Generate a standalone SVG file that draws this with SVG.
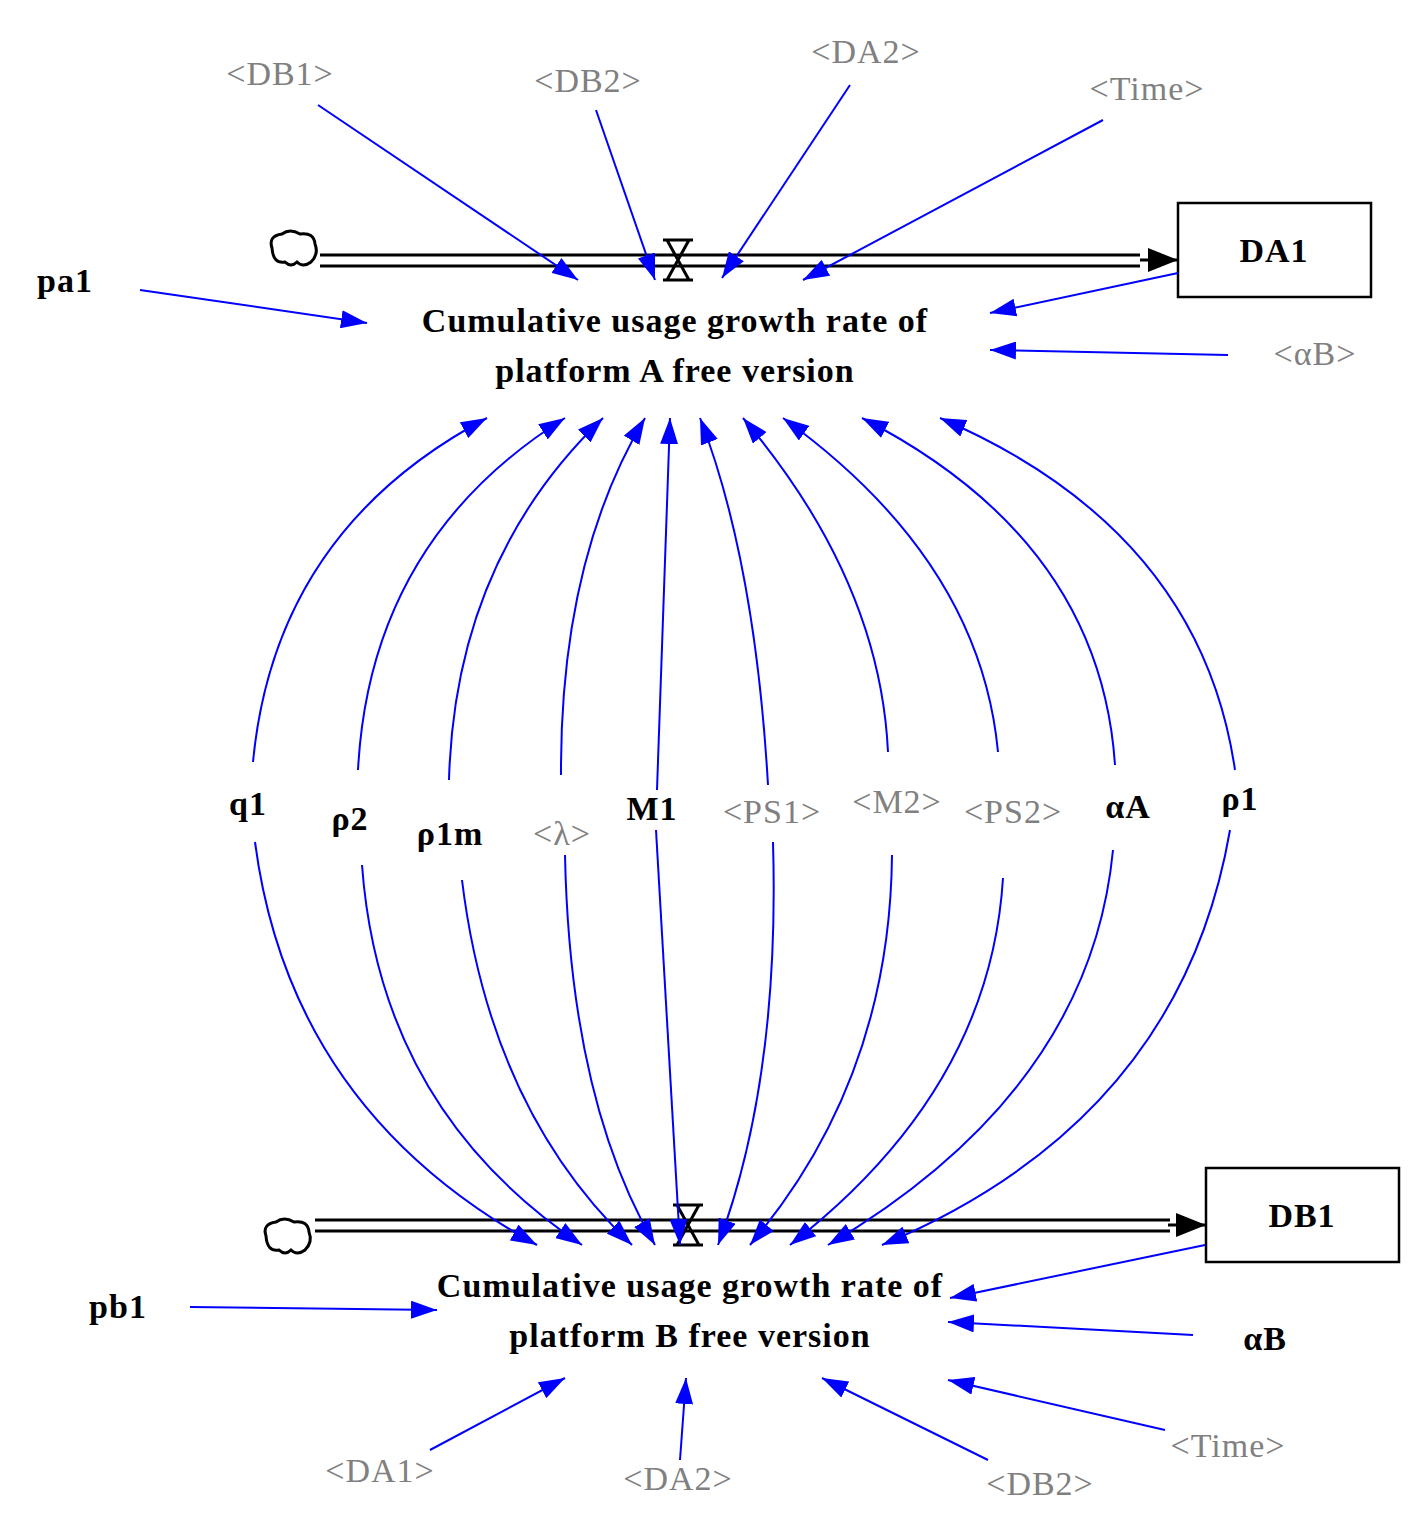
<svg xmlns="http://www.w3.org/2000/svg" width="1422" height="1528" viewBox="0 0 1422 1528">
<style>
text{font-family:"Liberation Serif","Times New Roman",serif;font-size:34px;font-weight:bold;letter-spacing:1px;text-anchor:middle}
.k{fill:#000}
.g{fill:#808080;font-weight:normal}
.c path{fill:none;stroke:#0000ff;stroke-width:2;marker-end:url(#ah)}
.pipe{stroke:#000;stroke-width:3;fill:none}
.box{fill:#fff;stroke:#000;stroke-width:2.5}
.cloud{fill:#fff;stroke:#000;stroke-width:3}
</style>
<defs>
<marker id="ah" viewBox="0 0 26 18" refX="26" refY="9" markerWidth="26" markerHeight="18" markerUnits="userSpaceOnUse" orient="auto"><path d="M0,0 L26,9 L0,18 z" fill="#0000ff"/></marker>
<marker id="bh" viewBox="0 0 30 24" refX="30" refY="12" markerWidth="30" markerHeight="24" markerUnits="userSpaceOnUse" orient="auto"><path d="M0,0 L30,12 L0,24 z" fill="#000"/></marker>
</defs>
<g id="flowA">
<path class="cloud" d="M272,248 q-4,-12 10,-14 q8,-6 18,0 q14,-2 15,10 q4,10 -4,18 q-8,6 -14,0 q-6,6 -12,0 q-12,2 -13,-14z"/>
<line class="pipe" x1="320" y1="255" x2="1140" y2="255"/>
<line class="pipe" x1="320" y1="266" x2="1140" y2="266"/>
<line x1="1140" y1="260" x2="1178" y2="260" stroke="#000" stroke-width="3" marker-end="url(#bh)"/>
<path d="M663,240 h30 M663,280 h30 M667,240 L689,280 M689,240 L667,280" stroke="#000" stroke-width="3" fill="none"/>
<text class="k" x="675" y="332">Cumulative usage growth rate of</text>
<text class="k" x="675" y="382">platform A free version</text>
</g>
<g id="DA1"><rect class="box" x="1178" y="203" width="193" height="94"/><text class="k" x="1274" y="262">DA1</text></g>
<g id="flowB">
<path class="cloud" d="M266,1236 q-4,-12 10,-14 q8,-6 18,0 q14,-2 15,10 q4,10 -4,18 q-8,6 -14,0 q-6,6 -12,0 q-12,2 -13,-14z"/>
<line class="pipe" x1="315" y1="1220" x2="1170" y2="1220"/>
<line class="pipe" x1="315" y1="1231" x2="1170" y2="1231"/>
<line x1="1168" y1="1225" x2="1206" y2="1225" stroke="#000" stroke-width="3" marker-end="url(#bh)"/>
<path d="M673,1205 h30 M673,1245 h30 M677,1205 L699,1245 M699,1205 L677,1245" stroke="#000" stroke-width="3" fill="none"/>
<text class="k" x="690" y="1297">Cumulative usage growth rate of</text>
<text class="k" x="690" y="1347">platform B free version</text>
</g>
<g id="DB1"><rect class="box" x="1206" y="1168" width="193" height="94"/><text class="k" x="1302" y="1227">DB1</text></g>
<g id="labels">
<text class="g" x="280" y="85">&lt;DB1&gt;</text>
<text class="g" x="588" y="92">&lt;DB2&gt;</text>
<text class="g" x="866" y="63">&lt;DA2&gt;</text>
<text class="g" x="1147" y="100">&lt;Time&gt;</text>
<text class="k" x="65" y="292">pa1</text>
<text class="g" x="1315" y="365">&lt;αB&gt;</text>
<text class="k" x="248" y="815">q1</text>
<text class="k" x="350" y="830">ρ2</text>
<text class="k" x="450" y="845">ρ1m</text>
<text class="g" x="562" y="845">&lt;λ&gt;</text>
<text class="k" x="652" y="820">M1</text>
<text class="g" x="772" y="823">&lt;PS1&gt;</text>
<text class="g" x="897" y="813">&lt;M2&gt;</text>
<text class="g" x="1013" y="823">&lt;PS2&gt;</text>
<text class="k" x="1128" y="818">αA</text>
<text class="k" x="1240" y="810">ρ1</text>
<text class="k" x="118" y="1318">pb1</text>
<text class="k" x="1265" y="1350">αB</text>
<text class="g" x="1228" y="1457">&lt;Time&gt;</text>
<text class="g" x="1040" y="1495">&lt;DB2&gt;</text>
<text class="g" x="678" y="1490">&lt;DA2&gt;</text>
<text class="g" x="380" y="1482">&lt;DA1&gt;</text>
</g>
<g id="connectors" class="c">
<path d="M318,105 L578,280"/>
<path d="M596,110 L655,280"/>
<path d="M850,85 L722,278"/>
<path d="M1103,120 L803,280"/>
<path d="M140,290 L367,323"/>
<path d="M1178,273 L990,313"/>
<path d="M1228,355 L990,350"/>
<path d="M253,762 Q275,530 487,418"/>
<path d="M358,770 Q370,540 565,418"/>
<path d="M449,780 Q455,560 603,418"/>
<path d="M561,775 Q560,560 645,418"/>
<path d="M657,790 L670,418"/>
<path d="M768,785 Q755,560 700,418"/>
<path d="M888,752 Q880,580 743,418"/>
<path d="M998,752 Q980,560 783,418"/>
<path d="M1115,765 Q1100,540 862,418"/>
<path d="M1235,770 Q1200,530 940,418"/>
<path d="M255,842 Q290,1110 537,1245"/>
<path d="M362,865 Q380,1110 582,1245"/>
<path d="M462,880 Q490,1110 632,1245"/>
<path d="M565,855 Q570,1100 655,1245"/>
<path d="M656,830 L680,1245"/>
<path d="M773,842 Q780,1080 718,1245"/>
<path d="M892,855 Q890,1080 750,1245"/>
<path d="M1003,878 Q990,1090 790,1245"/>
<path d="M1113,850 Q1090,1090 828,1245"/>
<path d="M1230,830 Q1180,1120 882,1245"/>
<path d="M190,1307 L437,1310"/>
<path d="M1205,1245 L950,1298"/>
<path d="M1193,1335 L948,1322"/>
<path d="M1165,1430 L948,1380"/>
<path d="M988,1460 L822,1378"/>
<path d="M680,1460 L686,1378"/>
<path d="M430,1450 L565,1378"/>
</g>
</svg>
